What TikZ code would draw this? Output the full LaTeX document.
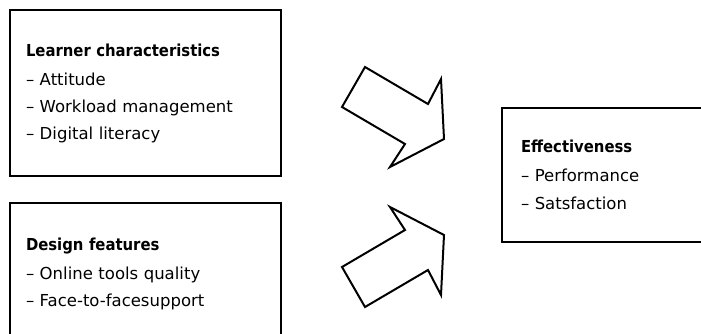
\documentclass[tikz,border=0pt]{standalone}
\usepackage{fontspec}
\setmainfont{DejaVu Sans}
\newfontfamily\headfont{DejaVu Sans Condensed}
\usetikzlibrary{positioning}

\begin{document}
\begin{tikzpicture}[x=1pt, y=-1pt,
    box/.style={draw, line width=2pt, anchor=north west, align=left,
      inner xsep=16pt, font=\fontsize{16.5}{27}\selectfont},
    bigarrow/.style={draw, line width=2pt, fill=white}]
      \useasboundingbox (0,0) rectangle (701,333);
      \clip (0,0) rectangle (701,333);

      \node[box, text width=239pt, minimum height=166pt] (learner) at (9,9)
        {{\headfont\bfseries Learner characteristics}\\[2pt] – Attitude\\ – Workload management\\ – Digital literacy};
      \node[box, text width=239pt, minimum height=142pt] (design) at (9,202)
        {{\headfont\bfseries Design features}\\[2pt] – Online tools quality\\ – Face-to-facesupport};
      \node[box, inner xsep=19pt, text width=190pt, minimum height=134pt] (effect) at (501,107)
        {{\headfont\bfseries Effectiveness}\\[2pt] – Performance\\[1pt] – Satsfaction};

      \draw[bigarrow] (365,67) -- (428,104) -- (441,79) -- (444,139) -- (390,167) -- (405,144) -- (342,107) -- cycle;
      \draw[bigarrow] (365,307) -- (428,270) -- (441,295) -- (444,235) -- (390,207) -- (405,230) -- (342,267) -- cycle;
    \end{tikzpicture}
\end{document}
